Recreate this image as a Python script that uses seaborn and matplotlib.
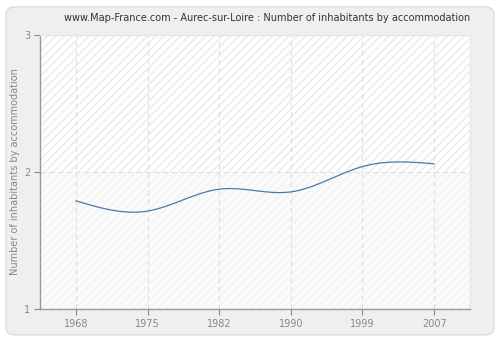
import numpy as np
import pandas as pd
import matplotlib
matplotlib.use("Agg")
import matplotlib.pyplot as plt
from matplotlib.patches import FancyBboxPatch
import seaborn as sns

years = ["1968", "1975", "1982", "1990", "1999", "2007"]
inhabitants = [1.79, 1.715, 1.875, 1.855, 2.04, 2.06]
y_ticks = [1, 2, 3]

TITLE = "www.Map-France.com - Aurec-sur-Loire : Number of inhabitants by accommodation"
Y_LABEL = "Number of inhabitants by accommodation"


def natural_spline(x, y, samples=40):
    """Smooth curve through the points (natural cubic spline)."""
    x = np.asarray(x, float)
    y = np.asarray(y, float)
    n = len(x)
    h = np.diff(x)
    A = np.zeros((n, n))
    r = np.zeros(n)
    A[0, 0] = A[-1, -1] = 1.0
    for i in range(1, n - 1):
        A[i, i - 1] = h[i - 1]
        A[i, i] = 2 * (h[i - 1] + h[i])
        A[i, i + 1] = h[i]
        r[i] = 3 * ((y[i + 1] - y[i]) / h[i] - (y[i] - y[i - 1]) / h[i - 1])
    c = np.linalg.solve(A, r)
    xs, ys = [], []
    for i in range(n - 1):
        b = (y[i + 1] - y[i]) / h[i] - h[i] * (2 * c[i] + c[i + 1]) / 3
        d = (c[i + 1] - c[i]) / (3 * h[i])
        t = np.linspace(0, h[i], samples, endpoint=(i == n - 2))
        xs.append(x[i] + t)
        ys.append(y[i] + b * t + c[i] * t ** 2 + d * t ** 3)
    return np.concatenate(xs), np.concatenate(ys)


sns.set_theme(style="white")
plt.rcParams["font.family"] = ["DejaVu Sans"]

fig = plt.figure(figsize=(5.0, 3.4), dpi=100)
fig.patch.set_facecolor("white")

# rounded grey panel behind the chart
panel = FancyBboxPatch((0.012, 0.015), 0.976, 0.965,
                       boxstyle="round,pad=0,rounding_size=0.02",
                       transform=fig.transFigure, facecolor="#efefef",
                       edgecolor="#dddddd", linewidth=1.0, zorder=-10)
fig.patches.append(panel)

ax = fig.add_axes([0.08, 0.091, 0.86, 0.806])
ax.set_zorder(1)
ax.set_facecolor("white")

pos = np.arange(len(years))
ax.set_xlim(-0.5, len(years) - 0.5)
ax.set_ylim(1, 3)

# hatched plot background: stronger above 2, fainter below
ax.fill_between([-0.5, len(years) - 0.5], 2, 3, facecolor="white",
                edgecolor="#ebebeb", hatch="////", linewidth=0, zorder=0)
ax.fill_between([-0.5, len(years) - 0.5], 1, 2, facecolor="#fafafa",
                edgecolor="#f2f2f2", hatch="////", linewidth=0, zorder=0)

# dashed grid
for p in pos:
    ax.axvline(p, color="#e0e0e0", linestyle=(0, (4, 3)), linewidth=0.9, zorder=1)
ax.axhline(2, color="#e0e0e0", linestyle=(0, (4, 3)), linewidth=0.9, zorder=1)

sx, sy = natural_spline(pos, inhabitants)
curve = pd.DataFrame({"pos": sx, "value": sy})
sns.lineplot(data=curve, x="pos", y="value", ax=ax, color="#4a79b0",
             linewidth=0.9, sort=False, zorder=3)

ax.set_xticks(pos)
ax.set_xticklabels(years)
ax.set_yticks(y_ticks)
ax.set_yticklabels([str(v) for v in y_ticks])
ax.set_xlabel("")
ax.set_ylabel(Y_LABEL, color="#888888", fontsize=7, labelpad=3)

ax.tick_params(axis="both", colors="#888888", labelcolor="#888888",
               labelsize=7, length=4, width=0.8, direction="out",
               bottom=True, left=True, pad=3)

for side in ["left", "bottom"]:
    ax.spines[side].set_color("#999999")
    ax.spines[side].set_linewidth(1.0)
for side in ["top", "right"]:
    ax.spines[side].set_color("#e6e6e6")
    ax.spines[side].set_linewidth(1.0)

fig.text(0.534, 0.948, TITLE, ha="center", va="center", fontsize=7,
         color="#333333")

fig.savefig("out.png", dpi=100, facecolor=fig.get_facecolor())
